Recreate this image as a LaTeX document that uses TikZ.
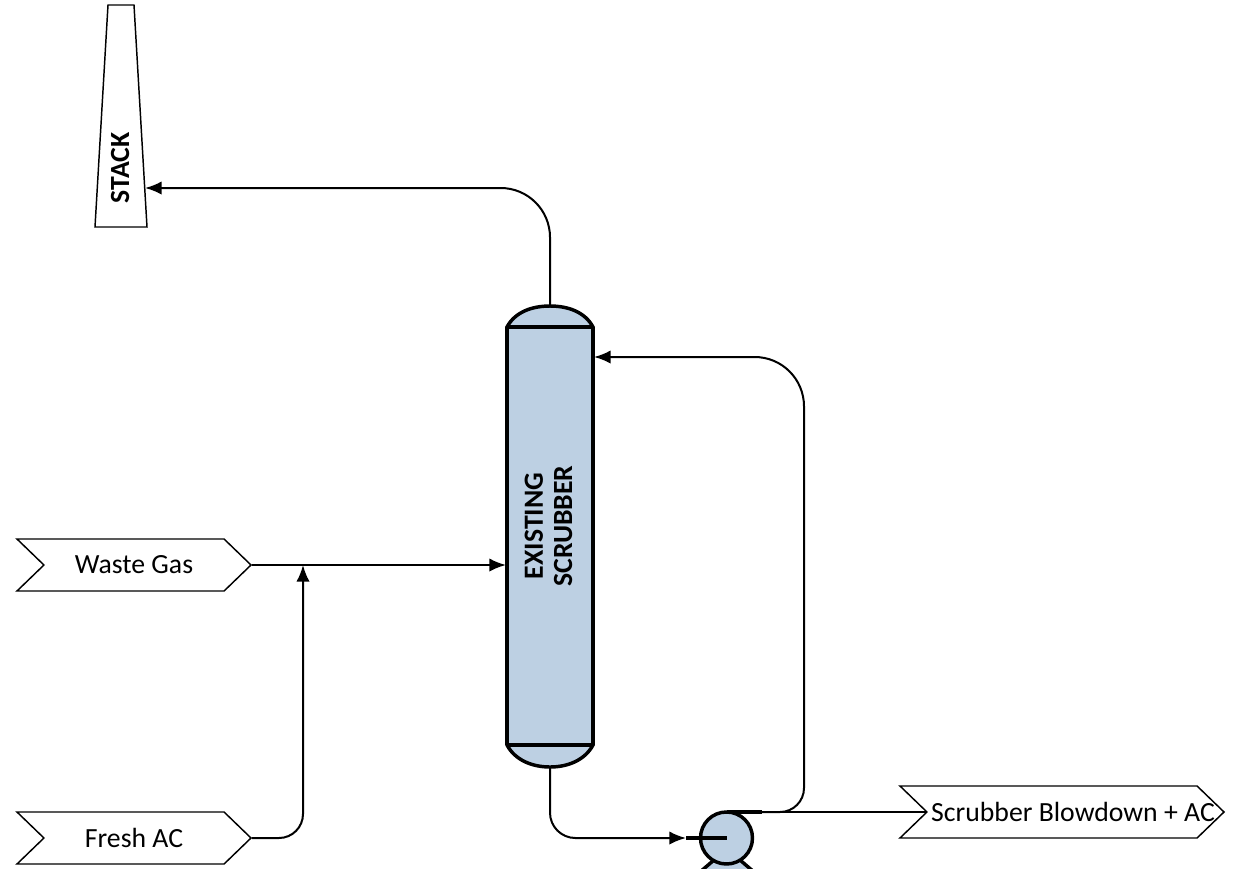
\documentclass[tikz,border=0pt]{standalone}
\usepackage{fontspec}
\setmainfont{Carlito}
\usetikzlibrary{shapes.symbols,arrows.meta}
\definecolor{vessel}{RGB}{189,208,227}
\tikzset{
  x=0.75pt,y=-0.75pt,
  pipe/.style={line width=1.5pt},
  flowtip/.style={-{Latex[length=12.5pt,width=10pt]}},
  stream/.style={shape=signal,signal to=east,signal from=west,signal pointer angle=88,draw,line width=1.1pt,minimum height=39pt,inner sep=0pt,font=\fontsize{20.8}{22}\selectfont},
  vesselline/.style={draw,fill=vessel,line width=2.6pt,outer sep=0pt,line join=round},
  vertical/.style={rotate=90,font=\bfseries\fontsize{20.8}{22}\selectfont,align=center,inner sep=0pt}
}
\begin{document}
\begin{tikzpicture}
\useasboundingbox (0,0) rectangle (1239,868);
\clip (0,0) rectangle (1239,868);
% stack
\draw[line width=1.1pt,fill=white] (108,5) -- (134,5) -- (147,227) -- (95,227) -- cycle;
\coordinate (stackin) at (145,188);
\node[vertical] (stacklabel) at (120,168) {STACK};
% scrubber
\draw[vesselline] (507,327) .. controls (515,312) and (532,306) .. (550,306) .. controls (568,306) and (585,312) .. (593,327) -- cycle;
\draw[vesselline] (507,745) .. controls (515,760) and (532,767) .. (550,767) .. controls (568,767) and (585,760) .. (593,745) -- cycle;
\node[vesselline,rectangle,minimum width=64.5pt,minimum height=313.5pt,inner sep=0pt] (scrubber) at (550,536) {};
\coordinate (scrubtop) at (550,306);
\coordinate (scrubbottom) at (550,767);
\coordinate (scrubrecycle) at (594,357);
\coordinate (scrubfeed) at (506,565);
\node[vertical] (scrublabel) at (548.5,526) {EXISTING\\SCRUBBER};
% streams
\node[stream,minimum width=175.5pt] (waste) at (134,565) {Waste Gas};
\node[stream,minimum width=175.5pt] (fresh) at (134,838) {Fresh AC};
\node[stream,minimum width=243pt] (blowdown) at (1062,812) {};
\node[font=\fontsize{20.8}{22}\selectfont,inner sep=0pt] (blowdownlabel) at (1073,812) {Scrubber Blowdown + AC};
% pump
\draw[vesselline] (700,872) -- (714,860) -- (740,860) -- (754,872) -- cycle;
\node[vesselline,circle,minimum size=39pt,inner sep=0pt] (pump) at (726.5,838) {};
\coordinate (pumpin) at (686,838);
% junction
\coordinate (junction) at (303,565);
% connectors
\draw[pipe,flowtip,rounded corners=37pt] (scrubtop) |- (stackin);
\draw[pipe,flowtip] (waste.east) -- (scrubfeed);
\draw[pipe,flowtip,rounded corners=18pt] (fresh.east) -| (junction);
\draw[pipe,flowtip,rounded corners=19pt] (scrubbottom) |- (pumpin);
\draw[line width=2.6pt] (pumpin) -- (pump.center);
\draw[pipe] (pump.north) -- (blowdown.west);
\draw[line width=2.6pt] (pump.north) -- +(35,0);
\draw[pipe,flowtip] (pump.north) [rounded corners=18pt] -- (804,812) [rounded corners=37pt] -- (804,357) -- (scrubrecycle);
\end{tikzpicture}
\end{document}
